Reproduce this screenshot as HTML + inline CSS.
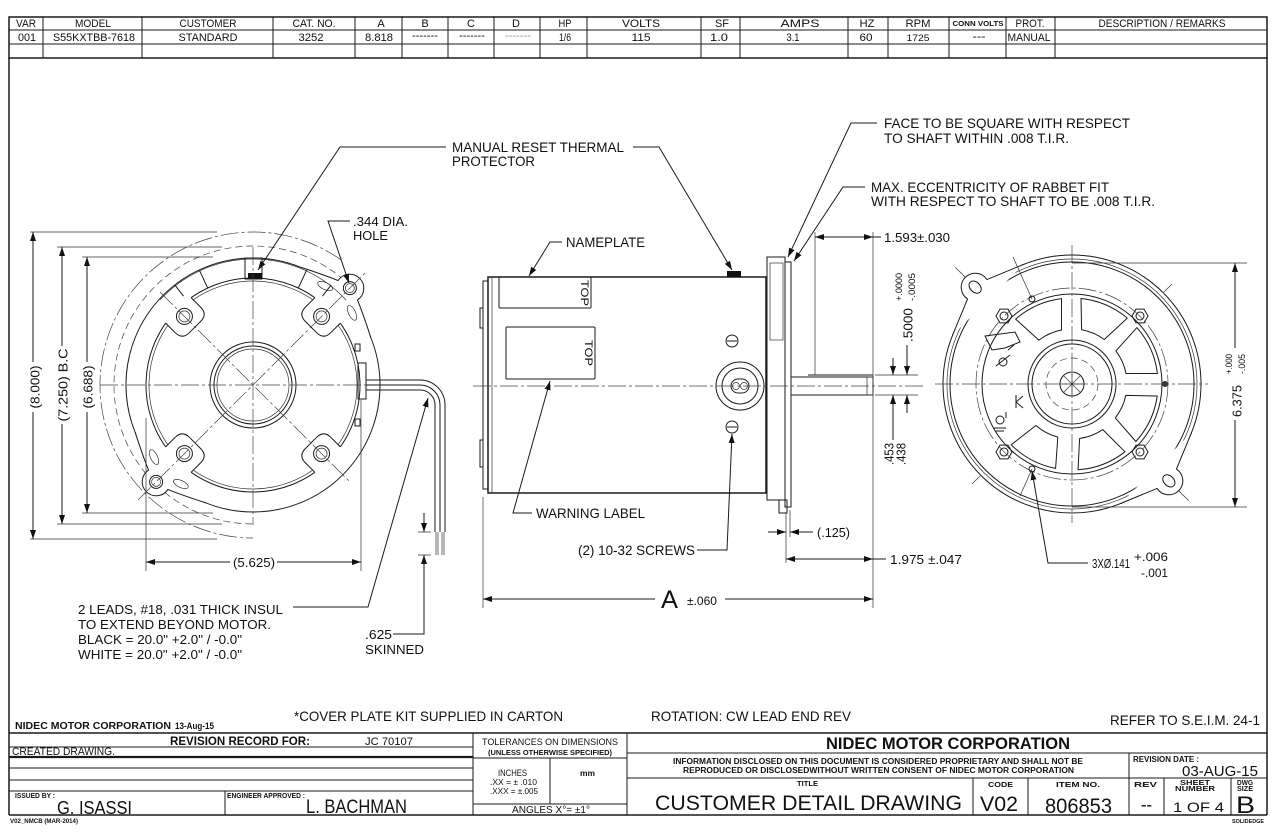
<!DOCTYPE html>
<html><head><meta charset="utf-8">
<style>
html,body{margin:0;padding:0;background:#fff;width:1280px;height:834px;overflow:hidden}
svg{display:block}
text{font-family:"Liberation Sans",Arial,sans-serif;fill:#111}
.s{stroke:#1a1a1a;stroke-width:1;fill:none}
.k{stroke:#1a1a1a;stroke-width:1.5;fill:none}
.t{stroke:#333;stroke-width:0.7;fill:none}
.c{stroke:#444;stroke-width:0.7;fill:none;stroke-dasharray:18 3 3 3}
.d{stroke:#444;stroke-width:0.7;fill:none;stroke-dasharray:7 4}
.b{font-weight:bold}
</style></head><body>
<svg width="1280" height="834" viewBox="0 0 1280 834" xmlns="http://www.w3.org/2000/svg">
<defs>
<marker id="a" viewBox="0 0 9 6" refX="9" refY="3" markerWidth="9" markerHeight="6" markerUnits="userSpaceOnUse" orient="auto-start-reverse"><path d="M0,0 L9,3 L0,6 z" fill="#111"/></marker>
</defs>

<!-- ===== TOP TABLE ===== -->
<g class="k" stroke-width="1.3">
<rect x="9" y="17" width="1258" height="41"/>
</g>
<g class="s">
<path d="M9 30H1267M9 44H1267"/>
<path d="M43 17V58M142 17V58M273 17V58M355 17V58M402 17V58M448 17V58M494 17V58M540 17V58M587 17V58M701 17V58M740 17V58M848 17V58M888 17V58M949 17V58M1006 17V58M1055 17V58"/>
</g>
<g font-size="11" text-anchor="middle" lengthAdjust="spacingAndGlyphs">
<text x="26" y="27" textLength="20" lengthAdjust="spacingAndGlyphs">VAR</text>
<text x="93" y="27" textLength="36" lengthAdjust="spacingAndGlyphs">MODEL</text>
<text x="208" y="27" textLength="57" lengthAdjust="spacingAndGlyphs">CUSTOMER</text>
<text x="314" y="27" textLength="43" lengthAdjust="spacingAndGlyphs">CAT. NO.</text>
<text x="381" y="27">A</text>
<text x="425" y="27">B</text>
<text x="471" y="27">C</text>
<text x="516" y="27">D</text>
<text x="565" y="27" textLength="13" lengthAdjust="spacingAndGlyphs">HP</text>
<text x="641" y="27" textLength="38" lengthAdjust="spacingAndGlyphs">VOLTS</text>
<text x="722" y="27" textLength="14" lengthAdjust="spacingAndGlyphs">SF</text>
<text x="800" y="27" textLength="39" lengthAdjust="spacingAndGlyphs">AMPS</text>
<text x="867" y="27" textLength="15" lengthAdjust="spacingAndGlyphs">HZ</text>
<text x="918" y="27" textLength="25" lengthAdjust="spacingAndGlyphs">RPM</text>
<text x="978" y="26" font-size="7" class="b" textLength="51" lengthAdjust="spacingAndGlyphs">CONN VOLTS</text>
<text x="1030" y="27" textLength="29" lengthAdjust="spacingAndGlyphs">PROT.</text>
<text x="1162" y="27" textLength="127" lengthAdjust="spacingAndGlyphs">DESCRIPTION / REMARKS</text>

<text x="27" y="41" textLength="18" lengthAdjust="spacingAndGlyphs">001</text>
<text x="94" y="41" textLength="82" lengthAdjust="spacingAndGlyphs">S55KXTBB-7618</text>
<text x="208" y="41" textLength="59" lengthAdjust="spacingAndGlyphs">STANDARD</text>
<text x="311" y="41" textLength="25" lengthAdjust="spacingAndGlyphs">3252</text>
<text x="379" y="41" textLength="28" lengthAdjust="spacingAndGlyphs">8.818</text>
<text x="425" y="39" textLength="26" lengthAdjust="spacingAndGlyphs">-------</text>
<text x="472" y="39" textLength="26" lengthAdjust="spacingAndGlyphs">-------</text>
<text x="518" y="39" textLength="26" lengthAdjust="spacingAndGlyphs" style="fill:#999">-------</text>
<text x="565" y="41" textLength="12" lengthAdjust="spacingAndGlyphs">1/6</text>
<text x="641" y="41" textLength="19" lengthAdjust="spacingAndGlyphs">115</text>
<text x="719" y="41" textLength="18" lengthAdjust="spacingAndGlyphs">1.0</text>
<text x="793" y="41" textLength="13" lengthAdjust="spacingAndGlyphs">3.1</text>
<text x="866" y="41" textLength="13" lengthAdjust="spacingAndGlyphs">60</text>
<text x="918" y="41" font-size="9" textLength="23" lengthAdjust="spacingAndGlyphs">1725</text>
<text x="979" y="40" textLength="13" lengthAdjust="spacingAndGlyphs">---</text>
<text x="1029" y="41" textLength="43" lengthAdjust="spacingAndGlyphs">MANUAL</text>
</g>

<!-- frame -->
<path class="k" stroke-width="1.3" d="M9 58V815M1267 58V815M9 815H1267M9 733H1267"/>

<!-- ===== LEFT END VIEW ===== -->
<path class="c" d="M340.8,259.7 A153,153 0 1 0 253,538"/>
<path class="d" d="M359.5,295.7 A139,139 0 1 0 253,524"/>
<circle class="s" cx="253" cy="385" r="127" stroke-width="1.2"/>

<!-- ears -->
<g transform="translate(253 385) rotate(-45)">
<path d="M116.9,-49.6 Q128,-28 134,-13.7 A14,14 0 1 1 134,13.7 Q128,28 116.9,49.6 Z" fill="#fff" stroke="none"/>
<path class="s" d="M116.9,-49.6 Q128,-28 134,-13.7 A14,14 0 1 1 134,13.7 Q128,28 116.9,49.6"/>
<circle class="s" cx="137" cy="0" r="6.5"/><circle class="t" cx="137" cy="0" r="4.5"/>
<ellipse class="t" cx="121" cy="-19" rx="8" ry="3.5" transform="rotate(70 121 -19)"/>
<ellipse class="t" cx="121" cy="19" rx="8" ry="3.5" transform="rotate(-70 121 19)"/>
</g>
<g transform="translate(253 385) rotate(135)">
<path d="M116.9,-49.6 Q128,-28 134,-13.7 A14,14 0 1 1 134,13.7 Q128,28 116.9,49.6 Z" fill="#fff" stroke="none"/>
<path class="s" d="M116.9,-49.6 Q128,-28 134,-13.7 A14,14 0 1 1 134,13.7 Q128,28 116.9,49.6"/>
<circle class="s" cx="137" cy="0" r="6.5"/><circle class="t" cx="137" cy="0" r="4.5"/>
<ellipse class="t" cx="121" cy="-19" rx="8" ry="3.5" transform="rotate(70 121 -19)"/>
<ellipse class="t" cx="121" cy="19" rx="8" ry="3.5" transform="rotate(-70 121 19)"/>
</g>

<!-- slot lines at top ring -->
<path class="s" d="M187.1,300.7 L174.8,284.9 M207.7,288.1 L199.3,269.9 M298.3,288.1 L306.7,269.9 M318.9,300.7 L331.2,284.9"/>
<path class="t" d="M160,300 A126,126 0 0 1 346,300"/>

<!-- shield outline -->
<circle class="s" cx="253" cy="385" r="107" stroke-width="1.6"/>
<circle class="t" cx="253" cy="385" r="104"/>

<!-- lugs + bosses -->
<g transform="translate(253 385) rotate(-45)">
<path d="M112,-18 L92,-18 Q82,-18 82,-8 L82,8 Q82,18 92,18 L112,18Z" fill="#fff" stroke="none"/>
<path class="s" stroke-width="1.5" d="M105.5,-18 L92,-18 Q82,-18 82,-8 L82,8 Q82,18 92,18 L105.5,18"/>
<circle class="s" cx="97" cy="0" r="8"/><circle class="t" cx="97" cy="0" r="5.5"/>
</g>
<g transform="translate(253 385) rotate(-135)">
<path d="M112,-18 L92,-18 Q82,-18 82,-8 L82,8 Q82,18 92,18 L112,18Z" fill="#fff" stroke="none"/>
<path class="s" stroke-width="1.5" d="M105.5,-18 L92,-18 Q82,-18 82,-8 L82,8 Q82,18 92,18 L105.5,18"/>
<circle class="s" cx="97" cy="0" r="8"/><circle class="t" cx="97" cy="0" r="5.5"/>
</g>
<g transform="translate(253 385) rotate(45)">
<path d="M112,-18 L92,-18 Q82,-18 82,-8 L82,8 Q82,18 92,18 L112,18Z" fill="#fff" stroke="none"/>
<path class="s" stroke-width="1.5" d="M105.5,-18 L92,-18 Q82,-18 82,-8 L82,8 Q82,18 92,18 L105.5,18"/>
<circle class="s" cx="97" cy="0" r="8"/><circle class="t" cx="97" cy="0" r="5.5"/>
</g>
<g transform="translate(253 385) rotate(135)">
<path d="M112,-18 L92,-18 Q82,-18 82,-8 L82,8 Q82,18 92,18 L112,18Z" fill="#fff" stroke="none"/>
<path class="s" stroke-width="1.5" d="M105.5,-18 L92,-18 Q82,-18 82,-8 L82,8 Q82,18 92,18 L105.5,18"/>
<circle class="s" cx="97" cy="0" r="8"/><circle class="t" cx="97" cy="0" r="5.5"/>
</g>

<!-- hub -->
<circle class="s" cx="253" cy="385" r="43" stroke-width="1.2"/>
<circle class="s" cx="253" cy="385" r="39"/>
<circle class="t" cx="253" cy="385" r="36"/>

<!-- thermal notch -->
<rect x="245" y="258" width="17" height="21" fill="#fff" class="s"/>
<rect x="248" y="273" width="14" height="6" fill="#111"/>

<!-- terminal box + nubs -->
<rect class="s" x="358" y="363" width="8" height="36" fill="#fff"/>
<rect class="s" x="355" y="344" width="5" height="7"/>
<rect class="s" x="355" y="419" width="5" height="7"/>

<!-- centerlines -->
<path class="c" d="M100 385H367M253 247V525"/>
<path class="c" d="M160 292L350 482M138 500L367 271" stroke-dasharray="12 3 3 3"/>

<!-- wire -->
<path class="s" d="M366 380H420A25,25 0 0 1 445,405V532"/>
<path class="s" d="M366 385H420A20,20 0 0 1 440,405V532"/>
<path class="s" d="M366 390H420A15,15 0 0 1 435,405V532"/>
<path class="t" d="M436 532V555M438 532V555M442 532V555M444 532V555"/>

<!-- .625 skinned -->
<path class="t" d="M418 532H431M418 555H431"/>
<path class="s" d="M424 513V532" marker-end="url(#a)"/>
<path class="s" d="M393 634H424V555" marker-end="url(#a)"/>
<text x="365" y="639" font-size="13" textLength="27" lengthAdjust="spacingAndGlyphs">.625</text>
<text x="365" y="654" font-size="13" textLength="59" lengthAdjust="spacingAndGlyphs">SKINNED</text>

<!-- left dims -->
<path class="t" d="M30 232H217M30 539H217M57 247H222M57 524H222M82 257H213M82 513H213"/>
<path class="s" d="M33 362V232" marker-end="url(#a)"/>
<path class="s" d="M33 412V539" marker-end="url(#a)"/>
<path class="s" d="M62 346V247" marker-end="url(#a)"/>
<path class="s" d="M62 424V524" marker-end="url(#a)"/>
<path class="s" d="M87 362V257" marker-end="url(#a)"/>
<path class="s" d="M87 412V513" marker-end="url(#a)"/>
<text transform="translate(35 387) rotate(-90)" y="4.5" font-size="13" text-anchor="middle" textLength="43" lengthAdjust="spacingAndGlyphs">(8.000)</text>
<text transform="translate(63 385) rotate(-90)" y="4.5" font-size="13" text-anchor="middle" textLength="73" lengthAdjust="spacingAndGlyphs">(7.250) B.C</text>
<text transform="translate(88 387) rotate(-90)" y="4.5" font-size="13" text-anchor="middle" textLength="43" lengthAdjust="spacingAndGlyphs">(6.688)</text>

<!-- 5.625 -->
<path class="t" d="M146 418V571M361 400V571"/>
<path class="s" d="M230 562H146" marker-end="url(#a)"/>
<path class="s" d="M277 562H361" marker-end="url(#a)"/>
<text x="233" y="567" font-size="13" textLength="42" lengthAdjust="spacingAndGlyphs">(5.625)</text>

<!-- .344 DIA HOLE -->
<path class="s" d="M350 221H328L349 283" marker-end="url(#a)"/>
<text x="353" y="226" font-size="13" textLength="55" lengthAdjust="spacingAndGlyphs">.344 DIA.</text>
<text x="353" y="240" font-size="13" textLength="35" lengthAdjust="spacingAndGlyphs">HOLE</text>

<!-- 2 LEADS -->
<path class="s" d="M293 607H368L428 398" marker-end="url(#a)"/>
<g font-size="13">
<text x="78" y="614" textLength="205" lengthAdjust="spacingAndGlyphs">2 LEADS, #18, .031 THICK INSUL</text>
<text x="78" y="629" textLength="193" lengthAdjust="spacingAndGlyphs">TO EXTEND BEYOND MOTOR.</text>
<text x="78" y="644" textLength="164" lengthAdjust="spacingAndGlyphs">BLACK = 20.0" +2.0" / -0.0"</text>
<text x="78" y="659" textLength="164" lengthAdjust="spacingAndGlyphs">WHITE = 20.0" +2.0" / -0.0"</text>
</g>

<!-- MANUAL RESET THERMAL PROTECTOR -->
<path class="s" d="M446 147H340L258 270" marker-end="url(#a)"/>
<path class="s" d="M633 147H659L732 270" marker-end="url(#a)"/>
<text x="452" y="152" font-size="14" textLength="172" lengthAdjust="spacingAndGlyphs">MANUAL RESET THERMAL</text>
<text x="452" y="166" font-size="14" textLength="83" lengthAdjust="spacingAndGlyphs">PROTECTOR</text>

<!-- FACE / MAX ECC -->
<path class="s" d="M877 123H851L788 257" marker-end="url(#a)"/>
<path class="s" d="M865 187H843L794 261" marker-end="url(#a)"/>
<g font-size="14">
<text x="884" y="128" textLength="246" lengthAdjust="spacingAndGlyphs">FACE TO BE SQUARE WITH RESPECT</text>
<text x="884" y="143" textLength="185" lengthAdjust="spacingAndGlyphs">TO SHAFT WITHIN .008 T.I.R.</text>
<text x="871" y="192" textLength="238" lengthAdjust="spacingAndGlyphs">MAX. ECCENTRICITY OF RABBET FIT</text>
<text x="871" y="206" textLength="284" lengthAdjust="spacingAndGlyphs">WITH RESPECT TO SHAFT TO BE .008 T.I.R.</text>
</g>

<!-- ===== SIDE VIEW ===== -->
<rect class="s" x="483" y="281" width="5" height="208" stroke-width="1.2"/>
<rect class="s" x="480" y="308" width="3" height="20"/>
<rect class="s" x="480" y="440" width="3" height="27"/>
<rect class="k" x="488" y="277" width="278" height="216"/>
<path class="t" d="M492 277V493"/>
<rect class="s" x="499" y="277" width="92" height="31" rx="1"/>
<rect class="s" x="506" y="327" width="89" height="52" rx="1"/>
<text transform="translate(585 293) rotate(90)" y="4" font-size="11" text-anchor="middle" textLength="26" lengthAdjust="spacingAndGlyphs">TOP</text>
<text transform="translate(589 353) rotate(90)" y="4" font-size="11" text-anchor="middle" textLength="26" lengthAdjust="spacingAndGlyphs">TOP</text>
<rect x="727" y="271" width="14" height="6" fill="#111"/>
<!-- screws -->
<circle class="s" cx="732" cy="341" r="6" stroke-width="1.5"/>
<path class="s" d="M727 341H737"/>
<circle class="s" cx="732" cy="427" r="6" stroke-width="1.5"/>
<path class="s" d="M727 427H737"/>
<!-- lead exit -->
<circle class="s" cx="740" cy="386" r="24"/>
<circle class="s" cx="740" cy="386" r="18"/>
<rect class="s" x="731" y="379" width="18" height="14" rx="7"/>
<circle class="t" cx="736" cy="386" r="3.5"/><circle class="t" cx="744" cy="386" r="3.5"/>
<!-- flange -->
<rect class="s" x="767" y="257" width="18" height="243" fill="#fff" stroke-width="1.2"/>
<rect class="t" x="770" y="263" width="13" height="77"/>
<rect class="s" x="785" y="262" width="6" height="245" fill="#fff"/>
<rect class="s" x="779" y="500" width="8" height="13"/>
<!-- shaft -->
<rect class="s" x="791" y="377" width="82" height="18" fill="#fff"/>
<path class="s" d="M808 375H873"/>
<rect class="t" x="867" y="377" width="6" height="18"/>
<path class="c" d="M473 386H925"/>

<!-- side view leaders -->
<path class="s" d="M562 242H550L529 276" marker-end="url(#a)"/>
<text x="566" y="247" font-size="14" textLength="79" lengthAdjust="spacingAndGlyphs">NAMEPLATE</text>
<path class="s" d="M532 513H513L550 381" marker-end="url(#a)"/>
<text x="536" y="518" font-size="14" textLength="109" lengthAdjust="spacingAndGlyphs">WARNING LABEL</text>
<path class="s" d="M697 550H727L732 434" marker-end="url(#a)"/>
<text x="578" y="555" font-size="14" textLength="117" lengthAdjust="spacingAndGlyphs">(2) 10-32 SCREWS</text>

<!-- 1.593 -->
<path class="t" d="M815 232V375M873 232V608"/>
<path class="s" d="M815 237H873" marker-start="url(#a)" marker-end="url(#a)"/>
<path class="s" d="M873 237H881"/>
<text x="884" y="242" font-size="13" textLength="66" lengthAdjust="spacingAndGlyphs">1.593±.030</text>

<!-- .5000 and .453 -->
<path class="t" d="M875 375H918M875 395H918"/>
<path class="s" d="M907 345V375" marker-end="url(#a)"/>
<path class="s" d="M907 413V395" marker-end="url(#a)"/>
<path class="s" d="M893 358V375" marker-end="url(#a)"/>
<path class="s" d="M893 440V395" marker-end="url(#a)"/>
<text transform="translate(908 325) rotate(-90)" y="4.5" font-size="13" text-anchor="middle" textLength="34" lengthAdjust="spacingAndGlyphs">.5000</text>
<text transform="translate(899 287) rotate(-90)" y="3" font-size="9" text-anchor="middle" textLength="28" lengthAdjust="spacingAndGlyphs">+.0000</text>
<text transform="translate(912 287) rotate(-90)" y="3" font-size="9" text-anchor="middle" textLength="28" lengthAdjust="spacingAndGlyphs">-.0005</text>
<text transform="translate(889 454) rotate(-90)" y="4.5" font-size="13" text-anchor="middle" textLength="22" lengthAdjust="spacingAndGlyphs">.453</text>
<text transform="translate(901 454) rotate(-90)" y="4.5" font-size="13" text-anchor="middle" textLength="22" lengthAdjust="spacingAndGlyphs">.438</text>

<!-- .125 -->
<path class="t" d="M786 513V563M790 510V537"/>
<path class="s" d="M768 532H786" marker-end="url(#a)"/>
<path class="s" d="M813 532H790" marker-end="url(#a)"/>
<text x="817" y="537" font-size="13" textLength="33" lengthAdjust="spacingAndGlyphs">(.125)</text>

<!-- 1.975 -->
<path class="s" d="M786 559H873" marker-start="url(#a)" marker-end="url(#a)"/>
<path class="s" d="M873 559H886"/>
<text x="890" y="564" font-size="13" textLength="72" lengthAdjust="spacingAndGlyphs">1.975 ±.047</text>

<!-- A -->
<path class="t" d="M483 497V608"/>
<path class="s" d="M655 599H483" marker-end="url(#a)"/>
<path class="s" d="M725 599H873" marker-end="url(#a)"/>
<text x="661" y="608" font-size="25" textLength="17" lengthAdjust="spacingAndGlyphs">A</text>
<text x="687" y="605" font-size="12" textLength="30" lengthAdjust="spacingAndGlyphs">±.060</text>

<!-- ===== RIGHT END VIEW ===== -->
<circle class="s" cx="1072" cy="384" r="129" stroke-width="1.2"/>
<circle class="t" cx="1072" cy="384" r="125"/>
<circle class="s" cx="1072" cy="384" r="122"/>
<g transform="translate(1072 384) rotate(-135)">
<path d="M118.8,-50.4 Q128,-28 134,-13.7 A14,14 0 1 1 134,13.7 Q128,28 118.8,50.4 Z" fill="#fff" stroke="none"/>
<path class="s" d="M118.8,-50.4 Q128,-28 134,-13.7 A14,14 0 1 1 134,13.7 Q128,28 118.8,50.4"/>
<ellipse class="s" cx="137" cy="0" rx="7" ry="5"/>
<path class="t" d="M150 0H165"/>
</g>
<g transform="translate(1072 384) rotate(45)">
<path d="M118.8,-50.4 Q128,-28 134,-13.7 A14,14 0 1 1 134,13.7 Q128,28 118.8,50.4 Z" fill="#fff" stroke="none"/>
<path class="s" d="M118.8,-50.4 Q128,-28 134,-13.7 A14,14 0 1 1 134,13.7 Q128,28 118.8,50.4"/>
<ellipse class="s" cx="137" cy="0" rx="7" ry="5"/>
<path class="t" d="M150 0H165"/>
</g>
<!-- short radial ticks -->
<g transform="translate(1072 384)" class="t">
<path d="M92,-92 L100,-100" transform="rotate(0)"/>
<path d="M-92,92 L-100,100"/>
<path d="M-40,-85 L-59,-127"/>
<path d="M-40,85 L-52,112"/>
</g>

<circle class="c" cx="1072" cy="384" r="96"/>
<circle class="s" cx="1072" cy="384" r="90" stroke-width="1.1"/>

<!-- windows -->
<g class="s" stroke-linejoin="round">
<path d="M1015.6,319.1 A86,86 0 0 1 1061.5,298.6 L1061.5,330 A55,55 0 0 0 1038.9,340.1 Z"/>
<path d="M1081,298.5 A86,86 0 0 1 1127.3,318.1 L1104.3,339.5 A55,55 0 0 0 1081.6,329.8 Z"/>
<path d="M1136.9,327.6 A86,86 0 0 1 1157.4,373.5 L1126,373.5 A55,55 0 0 0 1115.9,350.9 Z"/>
<path d="M1157.2,396 A86,86 0 0 1 1135.9,441.5 L1115.3,417.9 A55,55 0 0 0 1125.8,395.4 Z"/>
<path d="M1125,451.8 A86,86 0 0 1 1078,469.8 L1079.6,438.5 A55,55 0 0 0 1102.8,429.6 Z"/>
<path d="M1055.6,468.4 A86,86 0 0 1 1011.2,444.8 L1035.9,425.5 A55,55 0 0 0 1057.8,437.1 Z"/>
</g>
<!-- hub -->
<circle class="s" cx="1072" cy="384" r="44"/>
<circle class="s" cx="1072" cy="384" r="40"/>
<circle class="d" cx="1072" cy="384" r="26"/>
<circle class="s" cx="1072" cy="384" r="12" stroke-width="1.3"/>
<path class="t" d="M1064 376L1080 392M1080 376L1064 392M1072 373V395M1061 384H1083"/>
<!-- nuts -->
<g class="s">
<g transform="translate(1004 316)"><polygon points="8,0 4,6.9 -4,6.9 -8,0 -4,-6.9 4,-6.9"/><circle r="4"/></g>
<g transform="translate(1140 316)"><polygon points="8,0 4,6.9 -4,6.9 -8,0 -4,-6.9 4,-6.9"/><circle r="4"/></g>
<g transform="translate(1004 452)"><polygon points="8,0 4,6.9 -4,6.9 -8,0 -4,-6.9 4,-6.9"/><circle r="4"/></g>
<g transform="translate(1140 452)"><polygon points="8,0 4,6.9 -4,6.9 -8,0 -4,-6.9 4,-6.9"/><circle r="4"/></g>
</g>
<!-- small holes -->
<circle cx="1165" cy="384" r="3" fill="#333"/>
<circle class="s" cx="1032" cy="299" r="3"/>
<circle class="s" cx="1032" cy="469" r="3"/>
<!-- terminal symbols -->
<path class="s" d="M985 336L1015 332L1020 342L1005 348L992 350Z"/>
<circle class="s" cx="1003" cy="362" r="4"/><path class="s" d="M996 366L1010 355M1008 350L1014 345"/>
<circle class="s" cx="1000" cy="420" r="4"/><path class="s" d="M994 428H1006M996 431H1004M1006 412V418"/>
<path class="s" d="M1016 395V408M1016 402L1023 396M1016 402L1023 408"/>
<!-- centerlines -->
<path class="c" d="M935 384H1208M1072 245V523"/>

<!-- 6.375 -->
<path class="t" d="M1072 263H1247M1072 507H1247"/>
<path class="s" d="M1235 348V263" marker-end="url(#a)"/>
<path class="s" d="M1235 420V507" marker-end="url(#a)"/>
<text transform="translate(1237 401) rotate(-90)" y="4.5" font-size="13" text-anchor="middle" textLength="32" lengthAdjust="spacingAndGlyphs">6.375</text>
<text transform="translate(1229 364) rotate(-90)" y="3" font-size="9" text-anchor="middle" textLength="20" lengthAdjust="spacingAndGlyphs">+.000</text>
<text transform="translate(1242 364) rotate(-90)" y="3" font-size="9" text-anchor="middle" textLength="20" lengthAdjust="spacingAndGlyphs">-.005</text>

<!-- 3X hole -->
<path class="s" d="M1088 563H1048L1032 471" marker-end="url(#a)"/>
<text x="1092" y="568" font-size="13" textLength="38" lengthAdjust="spacingAndGlyphs">3XØ.141</text>
<text x="1134" y="561" font-size="12" textLength="34" lengthAdjust="spacingAndGlyphs">+.006</text>
<text x="1141" y="577" font-size="12" textLength="27" lengthAdjust="spacingAndGlyphs">-.001</text>

<!-- ===== NOTES ===== -->
<text x="15" y="729" font-size="10" class="b" textLength="156" lengthAdjust="spacingAndGlyphs">NIDEC MOTOR CORPORATION</text>
<text x="175" y="729" font-size="9" class="b" textLength="39" lengthAdjust="spacingAndGlyphs">13-Aug-15</text>
<text x="294" y="721" font-size="14" textLength="269" lengthAdjust="spacingAndGlyphs">*COVER PLATE KIT SUPPLIED IN CARTON</text>
<text x="651" y="721" font-size="14" textLength="200" lengthAdjust="spacingAndGlyphs">ROTATION: CW LEAD END REV</text>
<text x="1110" y="725" font-size="14" textLength="150" lengthAdjust="spacingAndGlyphs">REFER TO S.E.I.M. 24-1</text>

<!-- ===== TITLE BLOCK ===== -->
<g class="s" stroke-width="1.2">
<path d="M9 747H473M9 768H473M9 780H473M9 791H473M225 791V815M473 733V815"/>
<path d="M9 757H473" stroke-width="2.2"/>
<path d="M473 758H627M550 758V804M473 804H627M627 733V815"/>
<path d="M627 753H1267M627 778H1267M1129 753V815M973 778V815M1028 778V815M1164 778V815M1231 778V815"/>
</g>
<text x="170" y="745" font-size="12" class="b" textLength="140" lengthAdjust="spacingAndGlyphs">REVISION RECORD FOR:</text>
<text x="365" y="745" font-size="11" textLength="48" lengthAdjust="spacingAndGlyphs">JC 70107</text>
<text x="12" y="755" font-size="11" textLength="103" lengthAdjust="spacingAndGlyphs">CREATED DRAWING.</text>
<text x="15" y="798" font-size="7" class="b" textLength="40" lengthAdjust="spacingAndGlyphs">ISSUED BY :</text>
<text x="57" y="814" font-size="18" textLength="75" lengthAdjust="spacingAndGlyphs">G. ISASSI</text>
<text x="227" y="798" font-size="7" class="b" textLength="78" lengthAdjust="spacingAndGlyphs">ENGINEER APPROVED :</text>
<text x="306" y="813" font-size="19" textLength="101" lengthAdjust="spacingAndGlyphs">L. BACHMAN</text>
<text x="10" y="823" font-size="6" class="b" textLength="68" lengthAdjust="spacingAndGlyphs">V02_NMCB (MAR-2014)</text>

<text x="482" y="745" font-size="9.5" textLength="136" lengthAdjust="spacingAndGlyphs">TOLERANCES ON DIMENSIONS</text>
<text x="488" y="755" font-size="7" class="b" textLength="124" lengthAdjust="spacingAndGlyphs">(UNLESS OTHERWISE SPECIFIED)</text>
<text x="498" y="776" font-size="9" textLength="29" lengthAdjust="spacingAndGlyphs">INCHES</text>
<text x="490" y="785" font-size="8" textLength="47" lengthAdjust="spacingAndGlyphs">.XX = ± .010</text>
<text x="490" y="794" font-size="8" textLength="48" lengthAdjust="spacingAndGlyphs">.XXX = ±.005</text>
<text x="580" y="776" font-size="8" class="b" textLength="15" lengthAdjust="spacingAndGlyphs">mm</text>
<text x="512" y="813" font-size="10" textLength="78" lengthAdjust="spacingAndGlyphs">ANGLES  X°= ±1°</text>

<text x="826" y="749" font-size="17" class="b" textLength="244" lengthAdjust="spacingAndGlyphs">NIDEC MOTOR CORPORATION</text>
<text x="673" y="764" font-size="8" class="b" textLength="410" lengthAdjust="spacingAndGlyphs">INFORMATION DISCLOSED ON THIS DOCUMENT IS CONSIDERED PROPRIETARY AND SHALL NOT BE</text>
<text x="683" y="773" font-size="8" class="b" textLength="391" lengthAdjust="spacingAndGlyphs">REPRODUCED OR DISCLOSEDWITHOUT WRITTEN CONSENT OF NIDEC MOTOR CORPORATION</text>
<text x="1133" y="762" font-size="8" class="b" textLength="66" lengthAdjust="spacingAndGlyphs">REVISION DATE :</text>
<text x="1182" y="776" font-size="15" textLength="76" lengthAdjust="spacingAndGlyphs">03-AUG-15</text>
<text x="797" y="786" font-size="7" class="b" textLength="21" lengthAdjust="spacingAndGlyphs">TITLE</text>
<text x="988" y="787" font-size="7" class="b" textLength="25" lengthAdjust="spacingAndGlyphs">CODE</text>
<text x="1056" y="787" font-size="7" class="b" textLength="44" lengthAdjust="spacingAndGlyphs">ITEM NO.</text>
<text x="1134" y="787" font-size="7" class="b" textLength="23" lengthAdjust="spacingAndGlyphs">REV</text>
<text x="1180" y="785" font-size="7" class="b" textLength="30" lengthAdjust="spacingAndGlyphs">SHEET</text>
<text x="1175" y="791" font-size="7" class="b" textLength="40" lengthAdjust="spacingAndGlyphs">NUMBER</text>
<text x="1237" y="785" font-size="7" class="b" textLength="16" lengthAdjust="spacingAndGlyphs">DWG</text>
<text x="1237" y="791" font-size="7" class="b" textLength="16" lengthAdjust="spacingAndGlyphs">SIZE</text>
<text x="655" y="810" font-size="21" textLength="307" lengthAdjust="spacingAndGlyphs">CUSTOMER  DETAIL  DRAWING</text>
<text x="980" y="811" font-size="21" textLength="38" lengthAdjust="spacingAndGlyphs">V02</text>
<text x="1045" y="813" font-size="21" textLength="67" lengthAdjust="spacingAndGlyphs">806853</text>
<text x="1141" y="809" font-size="12" class="b" textLength="11" lengthAdjust="spacingAndGlyphs">--</text>
<text x="1173" y="812" font-size="14" textLength="51" lengthAdjust="spacingAndGlyphs">1  OF  4</text>
<text x="1236" y="813" font-size="24" textLength="19" lengthAdjust="spacingAndGlyphs">B</text>
<text x="1232" y="823" font-size="5" class="b" textLength="32" lengthAdjust="spacingAndGlyphs">SOLIDEDGE</text>
</svg>
</body></html>
